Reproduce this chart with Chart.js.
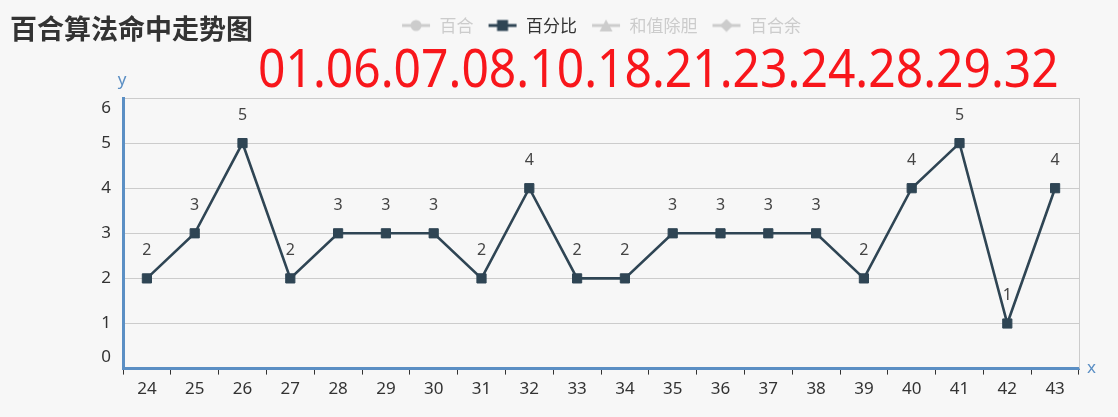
<!DOCTYPE html>
<html>
<head>
<meta charset="utf-8">
<script src="https://cdn.jsdelivr.net/npm/chart.js@4.4.1/dist/chart.umd.min.js"></script>
<style>
  html, body { margin: 0; padding: 0; background: #f7f7f7; }
  #wrap { position: relative; width: 1118px; height: 417px; }
  #title {
    position: absolute; left: 10px; top: 14px;
    font: bold 27px "Noto Sans CJK SC", sans-serif; color: #333;
    line-height: 1;
  }
  #hits {
    position: absolute; left: 258px; top: 40px;
    font: 53px "Noto Sans", sans-serif; color: #f8161b;
    line-height: 1; white-space: nowrap;
    transform: scaleX(0.906); transform-origin: left top;
  }
</style>
</head>
<body>
<div id="wrap">
  <canvas id="trendChart" width="1118" height="417"></canvas>
  <div id="title">百合算法命中走势图</div>
  <div id="hits">01.06.07.08.10.18.21.23.24.28.29.32</div>
</div>
<script>
const periods = ["24", "25", "26", "27", "28", "29", "30", "31", "32", "33",
  "34", "35", "36", "37", "38", "39", "40", "41", "42", "43"];
const percentValues = [2, 3, 5, 2, 3, 3, 3, 2, 4, 2, 2, 3, 3, 3, 3, 2, 4, 5, 1, 4];
const seriesNames = ["百合", "百分比", "和值除胆", "百合余"];
const seriesShapes = ["circle", "rect", "triangle", "rectRot"];
const activeSeries = 1;

const axisBlue = "#5b8fc4";
const lineColor = "#2f4554";
const offColor = "#cccccc";

function makeLegendIcon(shape, color) {
  const c = document.createElement("canvas");
  c.width = 30;
  c.height = 14;
  const g = c.getContext("2d");
  g.strokeStyle = color;
  g.fillStyle = color;
  g.lineWidth = 3;
  g.beginPath();
  g.moveTo(1, 7);
  g.lineTo(29, 7);
  g.stroke();
  g.beginPath();
  if (shape === "circle") {
    g.arc(15, 7, 5.5, 0, Math.PI * 2);
  } else if (shape === "rect") {
    g.rect(9.5, 1.5, 11, 11);
  } else if (shape === "triangle") {
    g.moveTo(15, 1);
    g.lineTo(21.5, 13);
    g.lineTo(8.5, 13);
    g.closePath();
  } else {
    g.moveTo(15, 0.5);
    g.lineTo(21.5, 7);
    g.lineTo(15, 13.5);
    g.lineTo(8.5, 7);
    g.closePath();
  }
  g.fill();
  return c;
}

const legendIcons = seriesShapes.map((s, i) =>
  makeLegendIcon(s, i === activeSeries ? lineColor : offColor)
);

const tallLegend = {
  id: "tallLegend",
  beforeInit(chart) {
    const fit = chart.legend.fit;
    chart.legend.fit = function () {
      fit.bind(chart.legend)();
      this.height = 95;
    };
  }
};

const extrasPlugin = {
  id: "extras",
  afterDraw(chart) {
    const { ctx, chartArea } = chart;
    const yScale = chart.scales.y;
    ctx.save();

    // right border of the plot
    ctx.strokeStyle = "#cccccc";
    ctx.lineWidth = 1;
    ctx.beginPath();
    ctx.moveTo(chartArea.right + 0.5, chartArea.top);
    ctx.lineTo(chartArea.right + 0.5, chartArea.bottom);
    ctx.stroke();

    // y tick labels, end ones pulled inside
    ctx.font = "17px 'Noto Sans', sans-serif";
    ctx.fillStyle = "#333";
    ctx.textAlign = "right";
    ctx.textBaseline = "middle";
    yScale.ticks.forEach((t) => {
      let y = yScale.getPixelForValue(t.value);
      if (t.value === yScale.max) y += 10;
      if (t.value === yScale.min) y -= 11;
      ctx.fillText(String(t.value), chartArea.left - 12, y);
    });

    // axis names
    ctx.fillStyle = axisBlue;
    ctx.textAlign = "center";
    ctx.textBaseline = "middle";
    ctx.fillText("y", chartArea.left - 1, chartArea.top - 18);
    ctx.textAlign = "left";
    ctx.fillText("x", chartArea.right + 8, chartArea.bottom);

    // value labels over points
    const meta = chart.getDatasetMeta(activeSeries);
    const data = chart.data.datasets[activeSeries].data;
    ctx.fillStyle = "#444";
    ctx.textAlign = "center";
    ctx.font = "16px 'Noto Sans', sans-serif";
    meta.data.forEach((pt, i) => {
      ctx.fillText(String(data[i]), pt.x, pt.y - 28);
    });

    ctx.restore();
  }
};

const datasets = seriesNames.map((name, i) => ({
  label: name,
  data: i === activeSeries ? percentValues : [],
  hidden: i !== activeSeries,
  borderColor: lineColor,
  backgroundColor: lineColor,
  pointStyle: seriesShapes[i],
  pointRadius: 6.5,
  pointBorderWidth: 1,
  pointHoverRadius: 7,
  borderWidth: 2.6,
  tension: 0
}));

const ctx = document.getElementById("trendChart").getContext("2d");
const trendChart = new Chart(ctx, {
  type: "line",
  plugins: [tallLegend, extrasPlugin],
  data: {
    labels: periods,
    datasets
  },
  options: {
    responsive: false,
    animation: false,
    layout: {
      padding: { left: 123, right: 39, top: 3, bottom: 14 }
    },
    plugins: {
      legend: {
        position: "top",
        align: "center",
        labels: {
          usePointStyle: true,
          pointStyleWidth: 30,
          padding: 14,
          font: { size: 17, family: "'Noto Sans CJK SC', sans-serif" },
          generateLabels(chart) {
            return seriesNames.map((name, i) => ({
              text: name,
              datasetIndex: i,
              hidden: false,
              pointStyle: legendIcons[i],
              fillStyle: i === activeSeries ? lineColor : offColor,
              strokeStyle: i === activeSeries ? lineColor : offColor,
              lineWidth: 0,
              fontColor: i === activeSeries ? "#333" : offColor
            }));
          }
        },
        onClick() {}
      },
      tooltip: { enabled: true }
    },
    scales: {
      x: {
        offset: true,
        grid: {
          offset: true,
          drawOnChartArea: false,
          drawTicks: true,
          tickLength: 6,
          color: "#333"
        },
        border: { color: axisBlue, width: 3 },
        ticks: {
          color: "#333",
          padding: 4,
          font: { size: 17, family: "'Noto Sans', sans-serif" }
        }
      },
      y: {
        min: 0,
        max: 6,
        ticks: { stepSize: 1, display: false },
        grid: { color: "#cccccc", drawTicks: false },
        border: { color: axisBlue, width: 3 }
      }
    }
  }
});
</script>
</body>
</html>
